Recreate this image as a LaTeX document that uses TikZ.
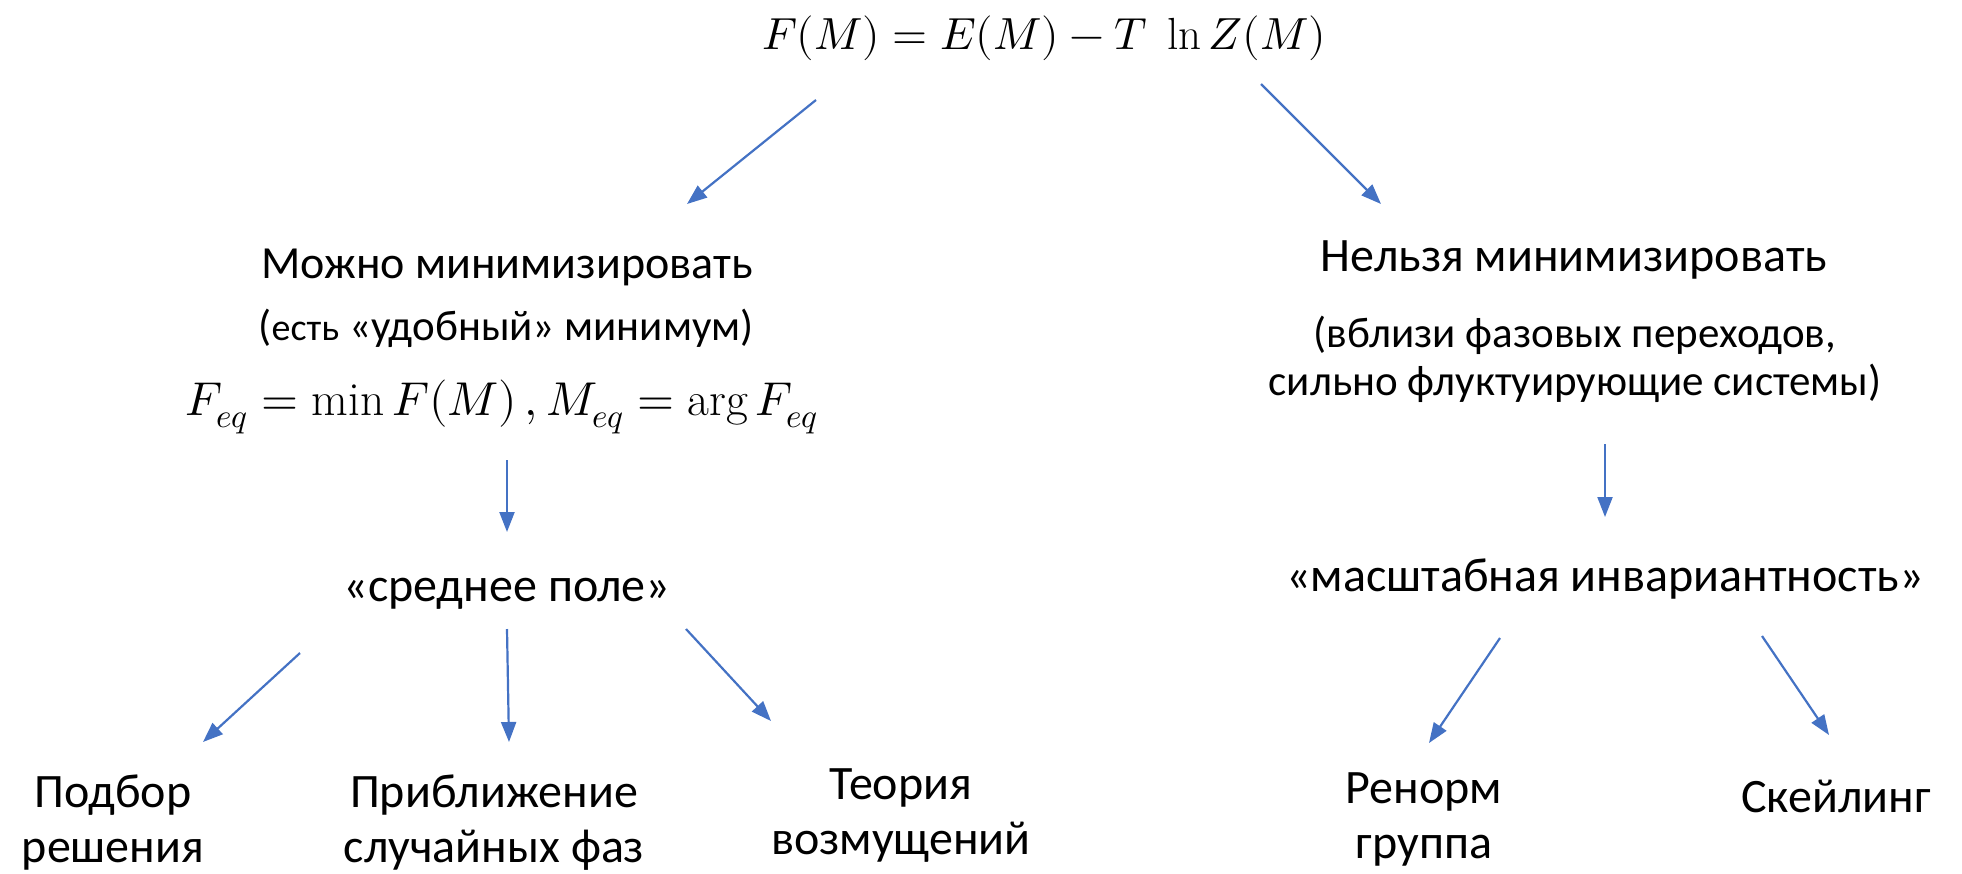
\documentclass[tikz,border=0pt]{standalone}
\usepackage{fontspec}
\usepackage{unicode-math}
\setmainfont{Carlito}
\setmathfont{Latin Modern Math}
\setmathrm{Latin Modern Roman}
\usetikzlibrary{arrows.meta, positioning}
\definecolor{linkblue}{HTML}{4472C4}

\begin{document}
\begin{tikzpicture}[
        x=1pt, y=-1pt,
        label/.style={
            inner sep=0pt,
            align=center,
            font=\fontsize{48}{55}\selectfont
        },
        note/.style={
            inner sep=0pt,
            align=center,
            font=\fontsize{43}{48}\selectfont
        },
        formula/.style={
            inner sep=0pt,
            font=\fontsize{45}{50}\selectfont
        },
        link/.style={-{Triangle[length=20pt, width=15pt]}, line width=2.2pt, linkblue}
    ]
        \useasboundingbox (0,0) rectangle (1962,873);

        % top
        \node[formula] (freeenergy) at (1044,38) {$F(M) = E(M) - T\;\ln Z(M)$};

        % left branch
        \node[label, font=\fontsize{46}{55}\selectfont] (canmin) at (507,267) {Можно минимизировать};
        \node[note] (canminnote) at (506,328)
            {({\fontsize{38}{44}\selectfont есть} «удобный» минимум)};
        \node[formula, font=\fontsize{47.5}{50}\selectfont] (equilibrium) at (502,407)
            {$F_{eq} = \min F(M)\,, M_{eq} = \arg F_{eq}$};
        \node[label] (meanfield) at (507,594) {«среднее поле»};
        \node[label] (fitting) at (113,823) {Подбор\\решения};
        \node[label] (randphase) at (494,823) {Приближение\\случайных фаз};
        \node[label] (perturb) at (901,816) {Теория\\возмущений};

        % right branch
        \node[label] (cannotmin) at (1574,260) {Нельзя минимизировать};
        \node[note] (cannotnote) at (1575,359)
            {(вблизи фазовых переходов,\\сильно флуктуирующие системы)};
        \node[label] (scaleinv) at (1605,579) {«масштабная инвариантность»};
        \node[label] (renorm) at (1424,819) {Ренорм\\группа};
        \node[label] (scaling) at (1836,796) {Скейлинг};

        \draw[link]
            ([shift={(-228,62)}]freeenergy.center)
            -- ([shift={(180,-63)}]canmin.center);
        \draw[link]
            ([shift={(217,46)}]freeenergy.center)
            -- ([shift={(-193,-56)}]cannotmin.center);
        \draw[link]
            ([shift={(5,53)}]equilibrium.center)
            -- ([shift={(0,-62)}]meanfield.center);
        \draw[link]
            ([shift={(-207,59)}]meanfield.center)
            -- ([shift={(90,-81)}]fitting.center);
        \draw[link]
            ([shift={(0,35)}]meanfield.center)
            -- ([shift={(15,-81)}]randphase.center);
        \draw[link]
            ([shift={(179,35)}]meanfield.center)
            -- ([shift={(-130,-95)}]perturb.center);
        \draw[link]
            ([shift={(30,85)}]cannotnote.center)
            -- ([shift={(0,-62)}]scaleinv.center);
        \draw[link]
            ([shift={(-105,59)}]scaleinv.center)
            -- ([shift={(5,-76)}]renorm.center);
        \draw[link]
            ([shift={(157,57)}]scaleinv.center)
            -- ([shift={(-7,-61)}]scaling.center);
    \end{tikzpicture}
\end{document}
